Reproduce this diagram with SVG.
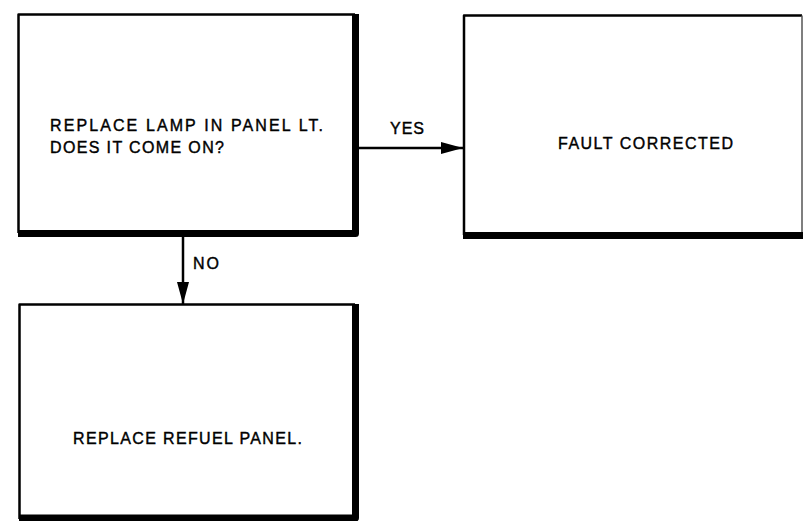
<svg xmlns="http://www.w3.org/2000/svg" width="803" height="521" viewBox="0 0 803 521">
  <style>
    .thin { fill: none; stroke: #000; stroke-width: 2.5; stroke-linejoin: round; }
    .thick { fill: none; stroke: #000; stroke-width: 7; stroke-linejoin: round; }
    .edge { fill: none; stroke: #555; stroke-width: 1.5; }
    .lbl { font-family: "Liberation Sans", Arial, sans-serif; font-size: 16px; fill: #000; stroke: #000; stroke-width: 0.4; }
    .conn { fill: none; stroke: #000; stroke-width: 2.5; }
  </style>
  <defs>
    <marker id="arrow" markerUnits="userSpaceOnUse" markerWidth="22" markerHeight="12" refX="22" refY="6" orient="auto">
      <path d="M0,0 L22,6 L0,12 Z" fill="#000"/>
    </marker>
  </defs>
  <rect width="803" height="521" fill="#fff"/>

  <g id="node-replace-lamp">
    <path class="thin" d="M18.5,233 V14.5 H355"/>
    <path class="thick" d="M355.5,14 V233.5 H18"/>
    <text class="lbl" x="50" y="130.5" textLength="273" lengthAdjust="spacing">REPLACE LAMP IN PANEL LT.</text>
    <text class="lbl" x="50" y="152.5" textLength="174" lengthAdjust="spacing">DOES IT COME ON?</text>
  </g>

  <g id="node-fault-corrected">
    <path class="thin" d="M464,235 V15.5 H802"/>
    <path class="edge" d="M802,15.5 V235"/>
    <path class="thick" d="M463,235.5 H803"/>
    <text class="lbl" x="558" y="148.5" textLength="175" lengthAdjust="spacing">FAULT CORRECTED</text>
  </g>

  <g id="node-replace-panel">
    <path class="thin" d="M19.5,519 V304.5 H355"/>
    <path class="thick" d="M355.5,304 V518 H19"/>
    <text class="lbl" x="73" y="443.5" textLength="229" lengthAdjust="spacing">REPLACE REFUEL PANEL.</text>
  </g>

  <g id="connectors">
    <line class="conn" x1="359" y1="148" x2="463" y2="148" marker-end="url(#arrow)"/>
    <text class="lbl" x="390" y="134" textLength="34" lengthAdjust="spacing">YES</text>
    <line class="conn" x1="183" y1="237" x2="183" y2="304" marker-end="url(#arrow)"/>
    <text class="lbl" x="193" y="268.5" textLength="26" lengthAdjust="spacing">NO</text>
  </g>
</svg>
